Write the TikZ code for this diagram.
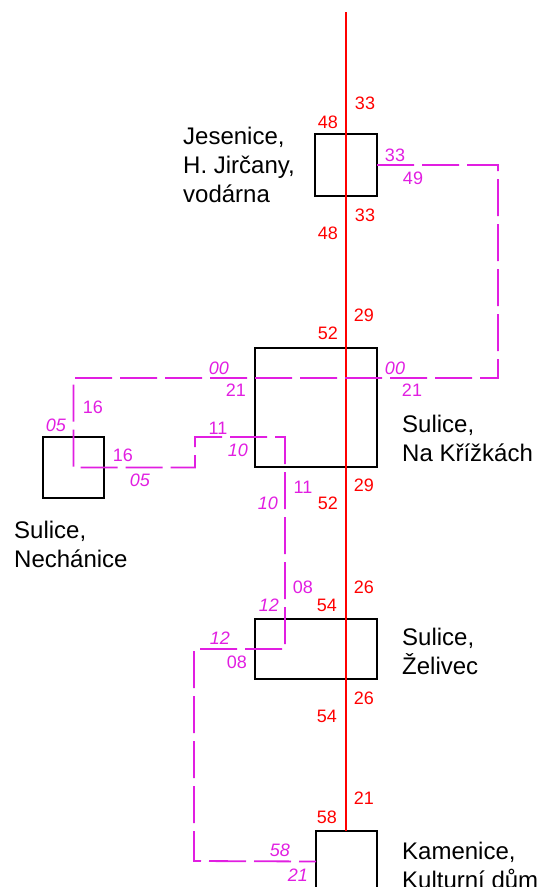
\documentclass[tikz,border=0pt]{standalone}
\usepackage{fontspec}
\setmainfont{Liberation Sans}
\usetikzlibrary{calc}

\definecolor{feeder}{RGB}{255,0,0}
\definecolor{backup}{RGB}{225,30,225}

\begin{document}
\begin{tikzpicture}[x=1pt,y=-1pt,
    station/.style={draw,line width=1.8pt,inner sep=0pt,outer sep=0pt},
    place/.style={align=left,inner sep=0pt,anchor=west,font=\fontsize{24}{29}\selectfont},
    rednum/.style={text=feeder,inner sep=0pt,font=\fontsize{18}{18}\selectfont},
    pinknum/.style={text=backup,inner sep=0pt,font=\fontsize{18}{18}\selectfont},
    pinkit/.style={pinknum,font=\fontsize{18}{18}\selectfont\itshape}]
    \useasboundingbox (0,0) rectangle (547,887);
    \clip (0,0) rectangle (547,887);

    \node[station,minimum width=62pt,minimum height=62pt] at (346,165) (jesenice) {};
    \node[station,minimum width=122pt,minimum height=119pt] at (316,407.5) (krizky) {};
    \node[station,minimum width=61pt,minimum height=61pt] at (73.5,467.5) (nechanice) {};
    \node[station,minimum width=122pt,minimum height=60pt] at (316,649) (zelivec) {};
    \node[station,minimum width=61pt,minimum height=61pt] at (346.5,861.5) (kamenice) {};
    \coordinate (top) at (346,12);

    \draw[feeder,line width=1.8pt] (top) -- (kamenice.north -| top);
    \draw[backup,line width=1.8pt,dash pattern=on 37pt off 8pt]
      (jesenice.east) -| (498,378) -| (nechanice.center) -| (195,437)
      -| (285,649) -| (194,861) -- (kamenice.west);

    \node[place] at (183,165) (t1) {Jesenice,\\H. Jirčany,\\vodárna};
    \node[place] at (402,438) (t2) {Sulice,\\Na Křížkách};
    \node[place] at (14,544) (t3) {Sulice,\\Nechánice};
    \node[place] at (402,651) (t4) {Sulice,\\Želivec};
    \node[place] at (402,865) (t5) {Kamenice,\\Kulturní dům};

    % numbers along the red line
    \node[rednum] at (365,103) (r1) {33};
    \node[rednum] at (328,122) (r2) {48};
    \node[rednum] at (365,215) (r3) {33};
    \node[rednum] at (328,233) (r4) {48};
    \node[rednum] at (364,315) (r5) {29};
    \node[rednum] at (328,333) (r6) {52};
    \node[rednum] at (364,485) (r7) {29};
    \node[rednum] at (328,503) (r8) {52};
    \node[rednum] at (364,587) (r9) {26};
    \node[rednum] at (327,605) (r10) {54};
    \node[rednum] at (364,698) (r11) {26};
    \node[rednum] at (327,716) (r12) {54};
    \node[rednum] at (364,798) (r13) {21};
    \node[rednum] at (327,817) (r14) {58};

    % numbers along the dashed line
    \node[pinknum] at (395,155) (m1) {33};
    \node[pinknum] at (413,178) (m2) {49};
    \node[pinkit] at (395,368) (m3) {00};
    \node[pinknum] at (412,390) (m4) {21};
    \node[pinkit] at (219,368) (m5) {00};
    \node[pinknum] at (236,390) (m6) {21};
    \node[pinkit] at (56,425) (m7) {05};
    \node[pinknum] at (93,407) (m8) {16};
    \node[pinknum] at (123,455) (m9) {16};
    \node[pinkit] at (140,480) (m10) {05};
    \node[pinknum] at (218,428) (m11) {11};
    \node[pinkit] at (238,450) (m12) {10};
    \node[pinknum] at (303,487) (m13) {11};
    \node[pinkit] at (268,503) (m14) {10};
    \node[pinknum] at (303,587) (m15) {08};
    \node[pinkit] at (269,605) (m16) {12};
    \node[pinkit] at (220,638) (m17) {12};
    \node[pinknum] at (237,662) (m18) {08};
    \node[pinkit] at (280,850) (m19) {58};
    \node[pinkit] at (298,875) (m20) {21};
\end{tikzpicture}
\end{document}
